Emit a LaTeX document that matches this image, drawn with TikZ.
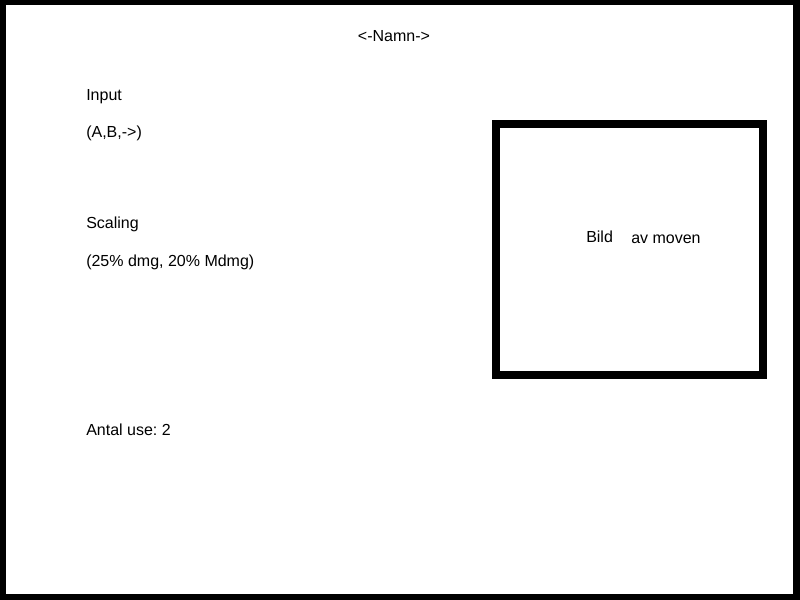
\documentclass[tikz,border=0pt]{standalone}
\usepackage{fontspec}
\setmainfont{Liberation Sans}
\usepackage{tikz}
\usetikzlibrary{positioning}
\frenchspacing
\tikzstyle{plainText} = [
    anchor=base west,
    inner sep=0pt,
    font=\fontsize{12}{14}\selectfont
    ]
\tikzstyle{titleText} = [
    anchor=base,
    inner sep=0pt,
    font=\fontsize{12}{14}\selectfont
    ]
\tikzstyle{imageFrame} = [
    draw,
    line width=6pt
    ]
\begin{document}
\begin{tikzpicture}[x=0.75pt, y=-0.75pt]
      \useasboundingbox (0,0) rectangle (800,600);
      \fill[black] (0,0) rectangle (800,600);
      \fill[white] (6,5) rectangle (793,594);
      \node[titleText] at (394,41) (name) {<-Namn->};
      \node[plainText] at (86,100) (input) {Input};
      \node[plainText] at (86,137) (inputKeys) {(A,B,->)};
      \node[plainText] at (86,228) (scaling) {Scaling};
      \node[plainText] at (86,266) (scalingValues) {(25\% dmg, 20\% Mdmg)};
      \node[plainText] at (86,435) (uses) {Antal use: 2};
      \draw[imageFrame] (496,124) rectangle (763,375);
      \node[plainText] at (586,242) (bild) {Bild};
      \node[plainText] at (631,243) (moveText) {av moven};
    \end{tikzpicture}
\end{document}
